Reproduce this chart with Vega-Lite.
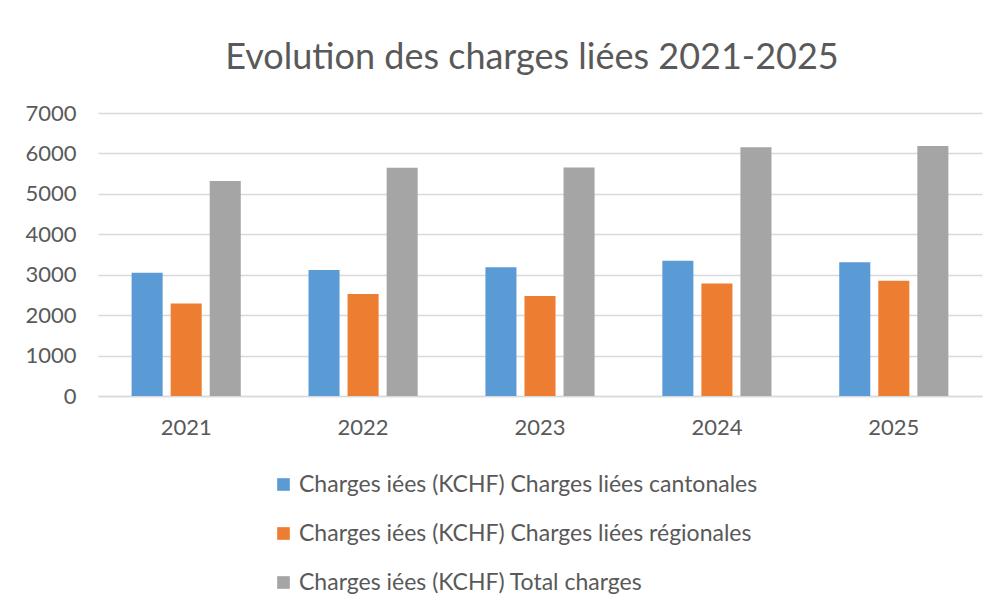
{
  "$schema": "https://vega.github.io/schema/vega-lite/v6.json",
  "width": 884,
  "height": 283,
  "autosize": {"type": "none"},
  "padding": {"left": 98, "top": 113, "right": 24, "bottom": 215},
  "background": "white",
  "title": {
    "text": "Evolution des charges liées 2021-2025",
    "font": "Lato",
    "fontSize": 36,
    "fontWeight": "normal",
    "color": "#595959",
    "anchor": "middle",
    "baseline": "alphabetic",
    "offset": -3,
    "dx": -8
  },
  "data": {
    "values": [
      {"annee": "2021", "serie": "Charges iées (KCHF) Charges liées cantonales", "valeur": 3050},
      {"annee": "2021", "serie": "Charges iées (KCHF) Charges liées régionales", "valeur": 2290},
      {"annee": "2021", "serie": "Charges iées (KCHF) Total charges", "valeur": 5320},
      {"annee": "2022", "serie": "Charges iées (KCHF) Charges liées cantonales", "valeur": 3115},
      {"annee": "2022", "serie": "Charges iées (KCHF) Charges liées régionales", "valeur": 2520},
      {"annee": "2022", "serie": "Charges iées (KCHF) Total charges", "valeur": 5645},
      {"annee": "2023", "serie": "Charges iées (KCHF) Charges liées cantonales", "valeur": 3185},
      {"annee": "2023", "serie": "Charges iées (KCHF) Charges liées régionales", "valeur": 2475},
      {"annee": "2023", "serie": "Charges iées (KCHF) Total charges", "valeur": 5655},
      {"annee": "2024", "serie": "Charges iées (KCHF) Charges liées cantonales", "valeur": 3345},
      {"annee": "2024", "serie": "Charges iées (KCHF) Charges liées régionales", "valeur": 2785},
      {"annee": "2024", "serie": "Charges iées (KCHF) Total charges", "valeur": 6150},
      {"annee": "2025", "serie": "Charges iées (KCHF) Charges liées cantonales", "valeur": 3310},
      {"annee": "2025", "serie": "Charges iées (KCHF) Charges liées régionales", "valeur": 2850},
      {"annee": "2025", "serie": "Charges iées (KCHF) Total charges", "valeur": 6185}
    ]
  },
  "mark": {"type": "bar"},
  "encoding": {
    "x": {
      "field": "annee",
      "type": "nominal",
      "scale": {"paddingInner": 0.383, "paddingOuter": 0.19},
      "axis": {
        "title": null,
        "labelAngle": 0,
        "labelFont": "Lato",
        "labelFontSize": 22,
        "labelColor": "#595959",
        "labelPadding": 21,
        "ticks": false,
        "domainColor": "#D9D9D9",
        "domainWidth": 1.5
      }
    },
    "xOffset": {
      "field": "serie",
      "type": "nominal",
      "scale": {"paddingInner": 0.205, "paddingOuter": 0}
    },
    "y": {
      "field": "valeur",
      "type": "quantitative",
      "scale": {"domain": [0, 7000], "nice": false},
      "axis": {
        "title": null,
        "format": "d",
        "values": [0, 1000, 2000, 3000, 4000, 5000, 6000, 7000],
        "labelFont": "Lato",
        "labelFontSize": 22,
        "labelColor": "#595959",
        "labelPadding": 22,
        "ticks": false,
        "domain": false,
        "gridColor": "#D9D9D9",
        "gridWidth": 1.5
      }
    },
    "color": {
      "field": "serie",
      "type": "nominal",
      "scale": {
        "domain": [
          "Charges iées (KCHF) Charges liées cantonales",
          "Charges iées (KCHF) Charges liées régionales",
          "Charges iées (KCHF) Total charges"
        ],
        "range": ["#5B9BD5", "#ED7D31", "#A5A5A5"]
      },
      "legend": {
        "title": null,
        "orient": "none",
        "legendX": 174,
        "legendY": 360,
        "direction": "vertical",
        "symbolType": "square",
        "symbolSize": 160,
        "labelFont": "Lato",
        "labelFontSize": 23,
        "labelColor": "#595959",
        "labelOffset": 4,
        "rowPadding": 25,
        "labelLimit": 700
      }
    }
  },
  "config": {
    "view": {"stroke": null}
  }
}
